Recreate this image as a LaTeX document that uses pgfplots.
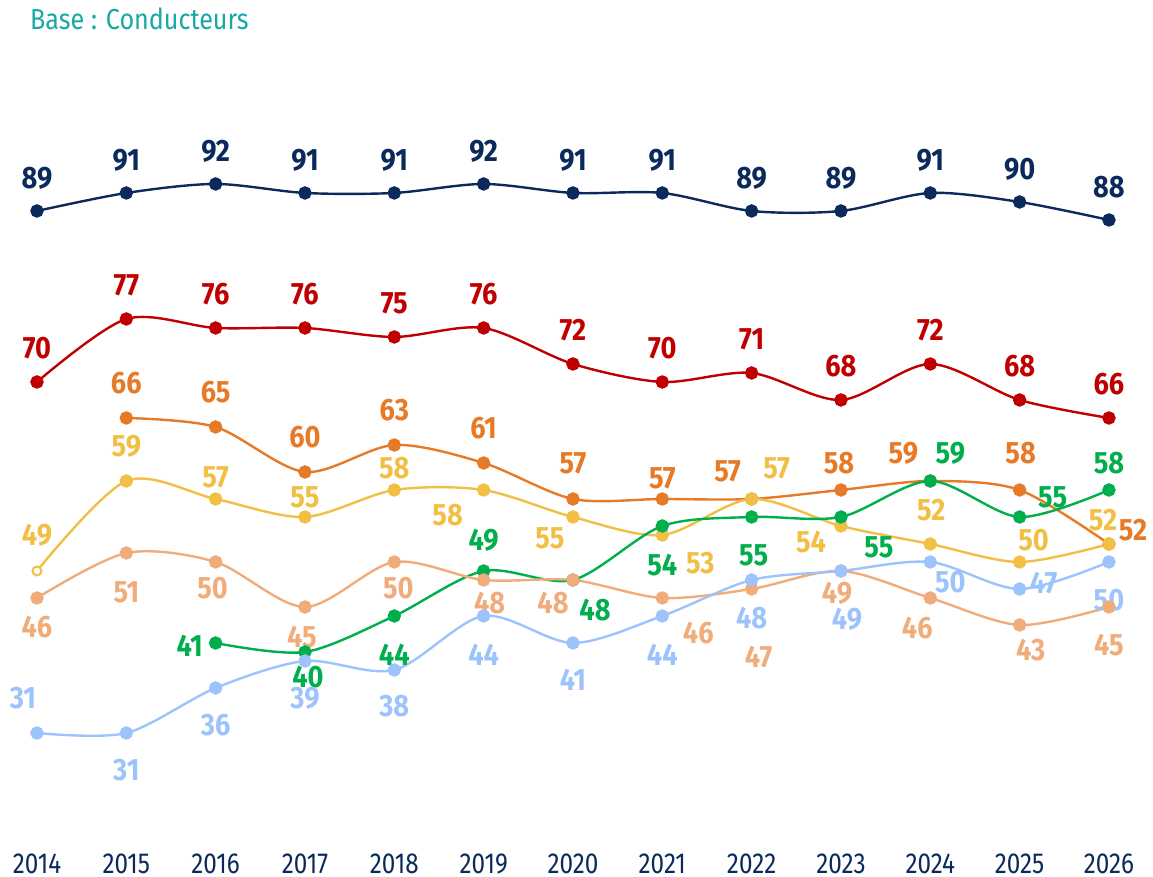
\documentclass[border=0pt]{standalone}
\usepackage{fontspec}
\setmainfont{Fira Sans}
\newfontfamily\labfont[FakeStretch=0.88]{Fira Sans}
\newfontfamily\tickfont[FakeStretch=0.84]{Fira Sans}
\newfontfamily\titlefont[FakeStretch=0.87]{Fira Sans}
\usepackage{pgfplots}
\pgfplotsset{compat=1.18}
\definecolor{navyc}{HTML}{0B2A5B}
\definecolor{redc}{HTML}{C00000}
\definecolor{orangec}{HTML}{E77A26}
\definecolor{yellowc}{HTML}{F2BF45}
\definecolor{greenc}{HTML}{00AE4D}
\definecolor{peachc}{HTML}{F0AC7B}
\definecolor{bluec}{HTML}{9CC3FC}
\definecolor{tealc}{HTML}{17A9A5}
% label: year, value, dx px, dy px (down positive), colour, text
\newcommand{\lbl}[6]{\node[text=#5, inner sep=0pt, font=\labfont\bfseries\fontsize{31}{31}\selectfont] at (axis cs:{#1+(#3)/89.33},{#2-(#4)/9}) {#6};}
\begin{document}
\begin{tikzpicture}
\begin{axis}[
  at={(0,0)}, anchor=south west,
  scale only axis, width=1153bp, height=877bp,
  xmin=2013.586, xmax=2026.493, ymin=15, ymax=112.44,
  axis line style={draw=none}, major tick length=0pt,
  ytick=\empty,
  xtick={2014,2015,2016,2017,2018,2019,2020,2021,2022,2023,2024,2025,2026},
  xticklabels={2014,2015,2016,2017,2018,2019,2020,2021,2022,2023,2024,2025,2026},
  x tick label style={font=\tickfont\fontsize{29}{29}\selectfont, text=navyc, anchor=center, inner sep=0pt, yshift=13bp},
  clip=false,
  every axis plot/.append style={line width=2.4bp, smooth, tension=0.5},
  mark size=5.5bp,
]
\addplot[navyc, mark=*, mark options={fill=navyc}] coordinates {(2014,89)(2015,91)(2016,92)(2017,91)(2018,91)(2019,92)(2020,91)(2021,91)(2022,89)(2023,89)(2024,91)(2025,90)(2026,88)};
\addplot[redc, mark=*, mark options={fill=redc}] coordinates {(2014,70)(2015,77)(2016,76)(2017,76)(2018,75)(2019,76)(2020,72)(2021,70)(2022,71)(2023,68)(2024,72)(2025,68)(2026,66)};
\addplot[orangec, mark=*, mark options={fill=orangec}] coordinates {(2015,66)(2016,65)(2017,60)(2018,63)(2019,61)(2020,57)(2021,57)(2022,57)(2023,58)(2024,59)(2025,58)(2026,52)};
\addplot[yellowc, no marks] coordinates {(2014,49)(2015,59)(2016,57)(2017,55)(2018,58)(2019,58)(2020,55)(2021,53)(2022,57)(2023,54)(2024,52)(2025,50)(2026,52)};
\addplot[yellowc, only marks, mark=*, mark options={fill=yellowc}] coordinates {(2015,59)(2016,57)(2017,55)(2018,58)(2019,58)(2020,55)(2021,53)(2022,57)(2023,54)(2024,52)(2025,50)(2026,52)};
\addplot[yellowc, only marks, mark=*, mark size=4.5bp, mark options={fill=white, line width=2bp}] coordinates {(2014,49)};
\addplot[greenc, mark=*, mark options={fill=greenc}] coordinates {(2016,41)(2017,40)(2018,44)(2019,49)(2020,48)(2021,54)(2022,55)(2023,55)(2024,59)(2025,55)(2026,58)};
\addplot[peachc, mark=*, mark options={fill=peachc}] coordinates {(2014,46)(2015,51)(2016,50)(2017,45)(2018,50)(2019,48)(2020,48)(2021,46)(2022,47)(2023,49)(2024,46)(2025,43)(2026,45)};
\addplot[bluec, mark=*, mark options={fill=bluec}] coordinates {(2014,31)(2015,31)(2016,36)(2017,39)(2018,38)(2019,44)(2020,41)(2021,44)(2022,48)(2023,49)(2024,50)(2025,47)(2026,50)};
% navy labels
\lbl{2014}{89}{0}{-33}{navyc}{89}
\lbl{2015}{91}{0}{-33}{navyc}{91}
\lbl{2016}{92}{0}{-33}{navyc}{92}
\lbl{2017}{91}{0}{-33}{navyc}{91}
\lbl{2018}{91}{0}{-33}{navyc}{91}
\lbl{2019}{92}{0}{-33}{navyc}{92}
\lbl{2020}{91}{0}{-33}{navyc}{91}
\lbl{2021}{91}{0}{-33}{navyc}{91}
\lbl{2022}{89}{0}{-33}{navyc}{89}
\lbl{2023}{89}{0}{-33}{navyc}{89}
\lbl{2024}{91}{0}{-33}{navyc}{91}
\lbl{2025}{90}{0}{-33}{navyc}{90}
\lbl{2026}{88}{0}{-33}{navyc}{88}
% red labels
\lbl{2014}{70}{0}{-34}{redc}{70}
\lbl{2015}{77}{0}{-34}{redc}{77}
\lbl{2016}{76}{0}{-34}{redc}{76}
\lbl{2017}{76}{0}{-34}{redc}{76}
\lbl{2018}{75}{0}{-34}{redc}{75}
\lbl{2019}{76}{0}{-34}{redc}{76}
\lbl{2020}{72}{0}{-34}{redc}{72}
\lbl{2021}{70}{0}{-34}{redc}{70}
\lbl{2022}{71}{0}{-34}{redc}{71}
\lbl{2023}{68}{0}{-34}{redc}{68}
\lbl{2024}{72}{0}{-34}{redc}{72}
\lbl{2025}{68}{0}{-34}{redc}{68}
\lbl{2026}{66}{0}{-34}{redc}{66}
% orange labels
\lbl{2015}{66}{0}{-35}{orangec}{66}
\lbl{2016}{65}{0}{-35}{orangec}{65}
\lbl{2017}{60}{0}{-35}{orangec}{60}
\lbl{2018}{63}{0}{-35}{orangec}{63}
\lbl{2019}{61}{0}{-35}{orangec}{61}
\lbl{2020}{57}{0}{-36}{orangec}{57}
\lbl{2021}{57}{0}{-21}{orangec}{57}
\lbl{2022}{57}{-24}{-28}{orangec}{57}
\lbl{2023}{58}{-2}{-27}{orangec}{58}
\lbl{2024}{59}{-27}{-28}{orangec}{59}
\lbl{2025}{58}{1}{-37}{orangec}{58}
\lbl{2026}{52}{24}{-14}{orangec}{52}
% yellow labels
\lbl{2014}{49}{0}{-36}{yellowc}{49}
\lbl{2015}{59}{0}{-35}{yellowc}{59}
\lbl{2016}{57}{0}{-22}{yellowc}{57}
\lbl{2017}{55}{0}{-20}{yellowc}{55}
\lbl{2018}{58}{0}{-22}{yellowc}{58}
\lbl{2019}{58}{-36}{25}{yellowc}{58}
\lbl{2020}{55}{-23}{21}{yellowc}{55}
\lbl{2021}{53}{38}{28}{yellowc}{53}
\lbl{2022}{57}{25}{-31}{yellowc}{57}
\lbl{2023}{54}{-30}{16}{yellowc}{54}
\lbl{2024}{52}{1}{-34}{yellowc}{52}
\lbl{2025}{50}{14}{-22}{yellowc}{50}
\lbl{2026}{52}{-6}{-24}{yellowc}{52}
% green labels
\lbl{2016}{41}{-26}{3}{greenc}{41}
\lbl{2017}{40}{3}{25}{greenc}{40}
\lbl{2018}{44}{0}{39}{greenc}{44}
\lbl{2019}{49}{0}{-31}{greenc}{49}
\lbl{2020}{48}{22}{30}{greenc}{48}
\lbl{2021}{54}{0}{39}{greenc}{54}
\lbl{2022}{55}{2}{38}{greenc}{55}
\lbl{2023}{55}{38}{30}{greenc}{55}
\lbl{2024}{59}{20}{-28}{greenc}{59}
\lbl{2025}{55}{33}{-20}{greenc}{55}
\lbl{2026}{58}{0}{-27}{greenc}{58}
% peach labels
\lbl{2014}{46}{0}{29}{peachc}{46}
\lbl{2015}{51}{0}{39}{peachc}{51}
\lbl{2016}{50}{-3}{26}{peachc}{50}
\lbl{2017}{45}{-3}{30}{peachc}{45}
\lbl{2018}{50}{4}{26}{peachc}{50}
\lbl{2019}{48}{6}{23}{peachc}{48}
\lbl{2020}{48}{-20}{23}{peachc}{48}
\lbl{2021}{46}{36}{35}{peachc}{46}
\lbl{2022}{47}{7}{68}{peachc}{47}
\lbl{2023}{49}{-4}{22}{peachc}{49}
\lbl{2024}{46}{-13}{30}{peachc}{46}
\lbl{2025}{43}{11}{25}{peachc}{43}
\lbl{2026}{45}{0}{38}{peachc}{45}
% blue labels
\lbl{2014}{31}{-14}{-35}{bluec}{31}
\lbl{2015}{31}{0}{37}{bluec}{31}
\lbl{2016}{36}{0}{37}{bluec}{36}
\lbl{2017}{39}{0}{37}{bluec}{39}
\lbl{2018}{38}{0}{36}{bluec}{38}
\lbl{2019}{44}{0}{39}{bluec}{44}
\lbl{2020}{41}{0}{37}{bluec}{41}
\lbl{2021}{44}{0}{39}{bluec}{44}
\lbl{2022}{48}{0}{38}{bluec}{48}
\lbl{2023}{49}{6}{48}{bluec}{49}
\lbl{2024}{50}{20}{20}{bluec}{50}
\lbl{2025}{47}{24}{-6}{bluec}{47}
\lbl{2026}{50}{0}{38}{bluec}{50}
\end{axis}
\node[anchor=base west, inner sep=0pt, text=tealc, font=\titlefont\fontsize{29}{29}\selectfont] at (30bp,847bp) {Base : Conducteurs};
\pgfresetboundingbox
\useasboundingbox (0,0) rectangle (1153bp,877bp);
\end{tikzpicture}
\end{document}
